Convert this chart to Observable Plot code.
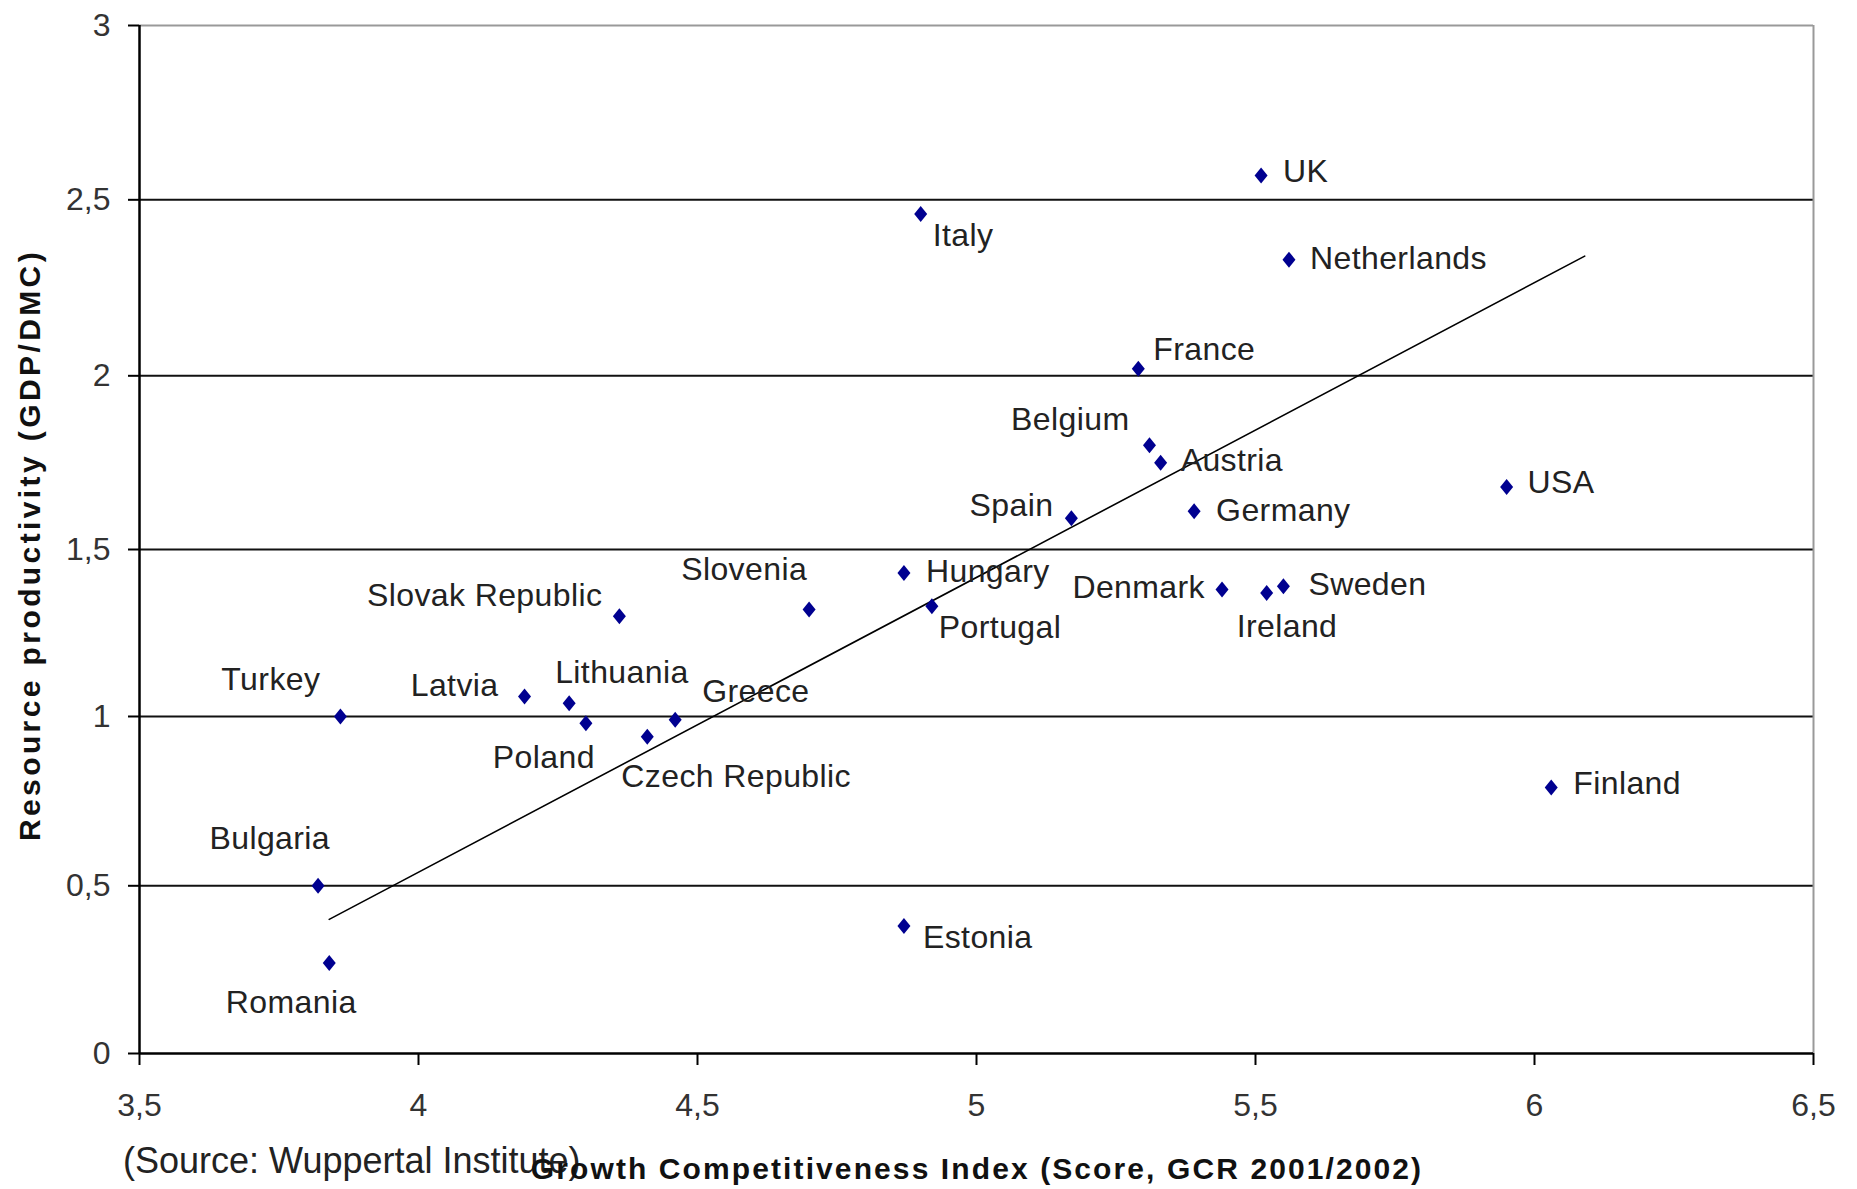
<!DOCTYPE html>
<html>
<head>
<meta charset="utf-8">
<script src="https://cdn.jsdelivr.net/npm/d3@7"></script>
<script src="https://cdn.jsdelivr.net/npm/@observablehq/plot@0.6"></script>
<style>
  html, body { margin: 0; padding: 0; background: #fff; }
  #wrap { position: relative; width: 1857px; height: 1189px; overflow: hidden; font-family: "Liberation Sans", Arial, sans-serif; }
  #source { position: absolute; left: 123px; top: 1140px; font-size: 36px; color: #222; white-space: nowrap; }
  #xtitle { position: absolute; left: 977px; top: 1169px; transform: translate(-50%, -50%); font-size: 30px; font-weight: bold; letter-spacing: 2.1px; color: #111; white-space: nowrap; }
  #ytitle { position: absolute; left: 30px; top: 545px; transform: translate(-50%, -50%) rotate(-90deg); font-size: 30px; font-weight: bold; letter-spacing: 3.4px; color: #111; white-space: nowrap; }
</style>
</head>
<body>
<div id="wrap"><div id="chart"></div><div id="source"></div><div id="xtitle"></div><div id="ytitle"></div></div>
<script>
// ---- data ----
const countries = ["UK","Italy","Netherlands","France","Belgium","Austria","Spain","Germany","USA","Hungary","Portugal","Slovenia","Slovak Republic","Denmark","Sweden","Ireland","Turkey","Latvia","Lithuania","Poland","Greece","Czech Republic","Finland","Bulgaria","Romania","Estonia"];
const gci = [5.51,4.90,5.56,5.29,5.31,5.33,5.17,5.39,5.95,4.87,4.92,4.70,4.36,5.44,5.55,5.52,3.86,4.19,4.27,4.30,4.46,4.41,6.03,3.82,3.84,4.87];
const productivity = [2.57,2.46,2.33,2.02,1.80,1.75,1.59,1.61,1.68,1.43,1.33,1.32,1.30,1.38,1.39,1.37,1.00,1.06,1.04,0.98,0.99,0.94,0.79,0.50,0.27,0.38];
const trendX = [3.84, 6.09];
const trendY = [0.40, 2.34];
const xTicks = [3.5,4,4.5,5,5.5,6,6.5];
const yTicks = [0,0.5,1,1.5,2,2.5,3];
const xTitle = "Growth Competitiveness Index (Score, GCR 2001/2002)";
const yTitle = "Resource productivity (GDP/DMC)";
const sourceNote = "(Source: Wuppertal Institute)";

// ---- style: slight unevenness of the original's gridline spacing (scale calibration) ----
const yWarp = [0, 0.4894, 0.9835, 1.4708, 1.9777, 2.4913, 3];

// ---- label placement (style only: anchor, pixel offsets) ----
const placement = {
  "UK": ["start", 22, -4], "Italy": ["start", 12, 22], "Netherlands": ["start", 21, -1],
  "France": ["start", 15, -19], "Belgium": ["end", -20, -26], "Austria": ["start", 20, -2],
  "Spain": ["end", -18, -12], "Germany": ["start", 22, -1], "USA": ["start", 21, -4],
  "Hungary": ["start", 22, -1], "Portugal": ["start", 7, 21], "Slovenia": ["end", -2, -40],
  "Slovak Republic": ["end", -17, -21], "Denmark": ["end", -17, -2], "Sweden": ["start", 25, -1],
  "Ireland": ["start", -30, 34], "Turkey": ["end", -20, -37], "Latvia": ["end", -26, -11],
  "Lithuania": ["start", -14, -30], "Poland": ["end", 9, 34], "Greece": ["start", 27, -28],
  "Czech Republic": ["start", -26, 40], "Finland": ["start", 22, -4], "Bulgaria": ["end", 12, -47],
  "Romania": ["middle", -38, 40], "Estonia": ["start", 19, 12]
};

document.getElementById("source").textContent = sourceNote;
document.getElementById("xtitle").textContent = xTitle;
document.getElementById("ytitle").textContent = yTitle;

const points = countries.map((c, i) => ({country: c, x: gci[i], y: productivity[i]}));
const trend = trendX.map((x, i) => ({x, y: trendY[i]}));
const fmt = d => String(d).replace(".", ",");
const FONT = "'Liberation Sans', Arial, sans-serif";
const warp = d3.scaleLinear().domain(yTicks).range(yWarp);

// diamond marker, a little wider than d3's
const diamond = {
  draw(context, size) {
    const s = Math.sqrt(size / Math.PI);
    const hw = s * 1.3, hh = s * 1.6;
    context.moveTo(0, -hh);
    context.lineTo(hw, 0);
    context.lineTo(0, hh);
    context.lineTo(-hw, 0);
    context.closePath();
  }
};

const labelMarks = points.map(p => {
  const [anchor, dx, dy] = placement[p.country];
  return Plot.text([p], {x: "x", y: "y", text: "country", textAnchor: anchor, dx, dy,
    lineAnchor: "middle", fontSize: 32, fill: "#222"});
});

const chart = Plot.plot({
  width: 1857,
  height: 1189,
  marginLeft: 139, marginRight: 44, marginTop: 25, marginBottom: 136,
  style: {fontFamily: FONT, background: "#fff", overflow: "visible"},
  x: {domain: [3.5, 6.5]},
  y: {domain: [0, 3], transform: v => warp(v), axis: null},
  marks: [
    Plot.ruleY(yTicks.filter(d => d > 0 && d < 3), {stroke: "#111", strokeWidth: 2}),
    Plot.ruleY([3], {stroke: "#999", strokeWidth: 2}),
    Plot.ruleX([6.5], {stroke: "#999", strokeWidth: 2}),
    Plot.ruleY([0], {stroke: "#000", strokeWidth: 2.5}),
    Plot.ruleX([3.5], {stroke: "#000", strokeWidth: 2.5}),
    Plot.axisX({ticks: xTicks, tickFormat: fmt, tickSize: 12, tickPadding: 28, fontSize: 32,
      stroke: "#000", strokeWidth: 2, fill: "#333", label: null}),
    // y axis: tick marks and labels (drawn so they follow the calibrated y scale)
    Plot.ruleY(yTicks, {y: d => d, x1: 3.5, x2: 3.5, insetLeft: -11, stroke: "#000", strokeWidth: 2}),
    Plot.text(yTicks, {y: d => d, frameAnchor: "left", text: fmt, textAnchor: "end", dx: -29,
      lineAnchor: "middle", fontSize: 32, fill: "#333"}),
    Plot.line(trend, {x: "x", y: "y", stroke: "#000", strokeWidth: 1.6}),
    Plot.dot(points, {x: "x", y: "y", symbol: diamond, r: 5, fill: "#000090", stroke: "none"}),
    ...labelMarks
  ]
});
document.getElementById("chart").appendChild(chart);
chart.querySelectorAll("text").forEach(t => {
  if (countries.includes(t.textContent)) t.setAttribute("letter-spacing", "0.4");
});
</script>
</body>
</html>
